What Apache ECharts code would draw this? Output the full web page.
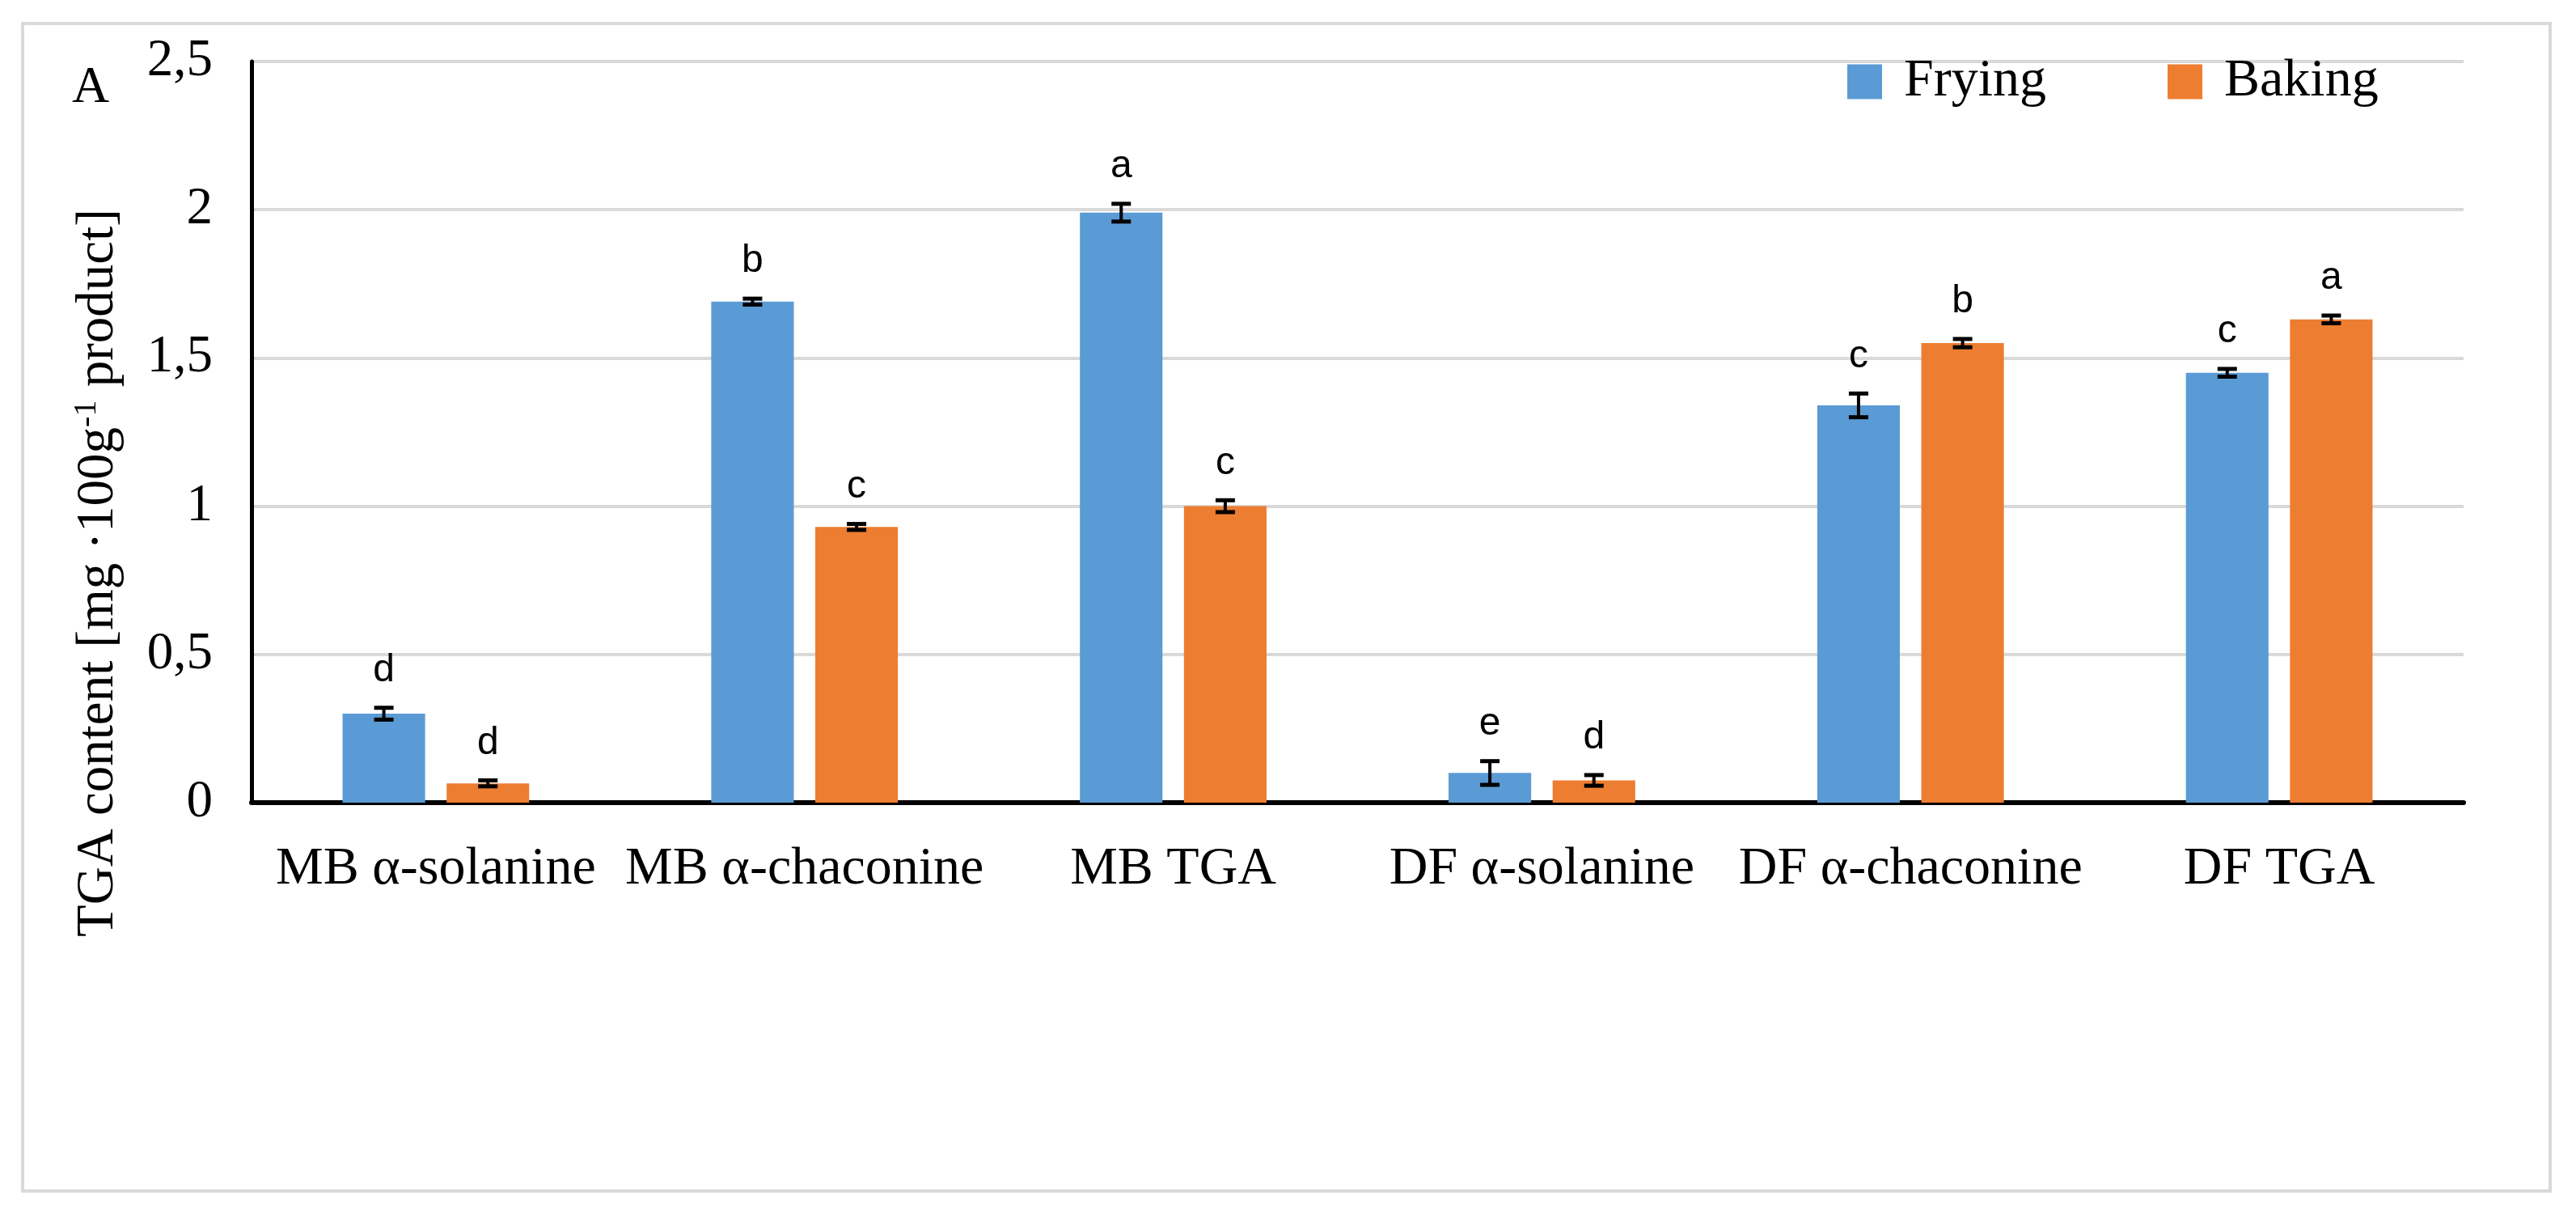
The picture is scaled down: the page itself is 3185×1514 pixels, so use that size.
<!DOCTYPE html>
<html>
<head>
<meta charset="utf-8">
<script src="https://cdn.jsdelivr.net/npm/echarts@6/dist/echarts.min.js"></script>
<style>
html,body{margin:0;padding:0;background:#fff;}
#chart{width:3185px;height:1514px;}
</style>
</head>
<body>
<div id="chart"></div>
<script>
const categories = ['MB α-solanine', 'MB α-chaconine', 'MB TGA', 'DF α-solanine', 'DF α-chaconine', 'DF TGA'];
const seriesNames = ['Frying', 'Baking'];
const frying = [0.30, 1.69, 1.99, 0.10, 1.34, 1.45];
const fryingErr = [0.02, 0.01, 0.03, 0.04, 0.04, 0.013];
const fryingLetters = ['d', 'b', 'a', 'e', 'c', 'c'];
const baking = [0.065, 0.93, 1.00, 0.075, 1.55, 1.63];
const bakingErr = [0.01, 0.01, 0.02, 0.018, 0.014, 0.013];
const bakingLetters = ['d', 'c', 'c', 'd', 'b', 'a'];
const yMin = 0, yMax = 2.5, yInterval = 0.5;
const yTitle = 'TGA content [mg ·100g';
const panelLabel = 'A';

const BLUE = '#5B9BD5', ORANGE = '#ED7D31';
const SERIF = "'Liberation Serif', 'Times New Roman', serif";
const NARROW = "'Liberation Sans Narrow', 'Liberation Sans', Arial, sans-serif";
const BAR_W = 0.224, BAR_GAP = 0.26;
const OFF = BAR_W * (1 + BAR_GAP) / 2;

function errSeries(values, errs, letters, sign) {
  return {
    type: 'custom',
    z: 10,
    data: values.map((v, i) => [i, v, errs[i]]),
    renderItem: function (params, api) {
      const ci = api.value(0), v = api.value(1), e = api.value(2);
      const band = api.size([1, 0])[0];
      const x = api.coord([ci, v])[0] + sign * band * OFF;
      const yT = api.coord([ci, v + e])[1];
      const yB = api.coord([ci, v - e])[1];
      const capW = 24, capH = 5;
      return {
        type: 'group',
        children: [
          { type: 'line', shape: { x1: x, y1: yT, x2: x, y2: yB }, style: { stroke: '#000', lineWidth: 4 } },
          { type: 'rect', shape: { x: x - capW / 2, y: yT - capH / 2, width: capW, height: capH }, style: { fill: '#000' } },
          { type: 'rect', shape: { x: x - capW / 2, y: yB - capH / 2, width: capW, height: capH }, style: { fill: '#000' } },
          { type: 'text', style: { text: letters[params.dataIndex], x: x, y: yT - 46, textAlign: 'center', textVerticalAlign: 'middle', fontSize: 48, fontFamily: NARROW, fill: '#000' } }
        ]
      };
    }
  };
}

const chart = echarts.init(document.getElementById('chart'));
chart.setOption({
  backgroundColor: '#fff',
  animation: false,
  grid: { left: 311, right: 139, top: 76, bottom: 522, containLabel: false },
  legend: {
    data: seriesNames,
    left: 2279, top: 63,
    itemWidth: 43, itemHeight: 43, itemGap: 150,
    icon: 'rect',
    textStyle: { fontFamily: SERIF, fontSize: 66, color: '#000', padding: [0, 0, 0, 22], lineHeight: 66 }
  },
  xAxis: {
    type: 'category',
    data: categories,
    axisLine: { lineStyle: { color: '#000', width: 6 } },
    axisTick: { show: false },
    axisLabel: { fontFamily: SERIF, fontSize: 66, color: '#000', margin: 50, lineHeight: 66, interval: 0 }
  },
  yAxis: {
    type: 'value',
    min: yMin, max: yMax, interval: yInterval,
    axisLine: { show: true, lineStyle: { color: '#000', width: 5 } },
    axisTick: { show: false },
    splitLine: { lineStyle: { color: '#d9d9d9', width: 4 } },
    axisLabel: { fontFamily: SERIF, fontSize: 65, color: '#000', margin: 48, formatter: v => String(v).replace('.', ',') }
  },
  series: [
    { name: 'Frying', type: 'bar', data: frying, barWidth: (BAR_W * 100) + '%', barGap: (BAR_GAP * 100) + '%', itemStyle: { color: BLUE } },
    { name: 'Baking', type: 'bar', data: baking, barWidth: (BAR_W * 100) + '%', barGap: (BAR_GAP * 100) + '%', itemStyle: { color: ORANGE } },
    errSeries(frying, fryingErr, fryingLetters, -1),
    errSeries(baking, bakingErr, bakingLetters, 1)
  ],
  graphic: [
    { type: 'rect', z: -1, shape: { x: 28, y: 29, width: 3125, height: 1443 }, style: { fill: 'none', stroke: '#d9d9d9', lineWidth: 4 } },
    { type: 'text', x: 89, y: 109, style: { text: panelLabel, textAlign: 'left', textVerticalAlign: 'middle', fontFamily: SERIF, fontSize: 64, fill: '#000' } },
    {
      type: 'text', x: 122, y: 708, rotation: Math.PI / 2,
      style: {
        text: '{a|' + yTitle + '}{s|-1}{a| product]}',
        textAlign: 'center', textVerticalAlign: 'middle',
        rich: {
          a: { fontFamily: SERIF, fontSize: 65, color: '#000', lineHeight: 70 },
          s: { fontFamily: SERIF, fontSize: 40, color: '#000', lineHeight: 40, verticalAlign: 'top' }
        }
      }
    }
  ]
});
</script>
</body>
</html>
